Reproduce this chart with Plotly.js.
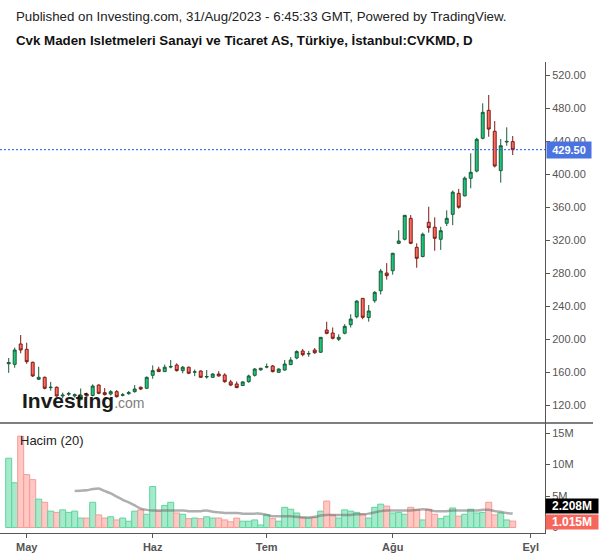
<!DOCTYPE html>
<html>
<head>
<meta charset="utf-8">
<script src="https://cdn.plot.ly/plotly-3.0.1.min.js"></script>
<style>
html,body{margin:0;padding:0;background:#ffffff;}
#chart{width:600px;height:558px;}
</style>
</head>
<body>
<div id="chart"></div>
<script>
// ---- Data ----
const openP = [170, 169.3, 194, 187.5, 171.8, 151.2, 153.6, 141, 141.5, 131,
  133, 131, 126.5, 133.3, 131.5, 144.2, 135, 133.3, 136.2, 131.8,
  133.7, 136.2, 141.5, 140.3, 156, 163.4, 160.5, 166, 168.5, 161.7,
  165.8, 159.8, 161.2, 154, 153.6, 157.6, 156.4, 148, 145.5, 143.6,
  148.3, 156, 162.6, 166, 167.3, 159.6, 162.4, 168.9, 177, 185.5,
  182, 186.7, 184, 210.9, 207.3, 199.7, 207, 217.4, 227, 249.3,
  226, 246.4, 258.5, 280, 282.8, 316, 320.9, 346.3, 311.2, 300,
  341.5, 335.5, 320.9, 340.3, 351.2, 376.6, 373.5, 394.8, 403.6, 443.3,
  477.2, 451.8, 404.1, 438.8, 439.3];
const highP = [177, 189.5, 204.8, 195.5, 172.5, 166.4, 154.5, 148, 142.5, 135,
  136, 134, 140, 135, 145, 145, 140.6, 138, 138, 134.5,
  137, 144.2, 142.5, 154.5, 168, 166.4, 169, 174.5, 170.5, 167.3,
  166.5, 163, 162, 162.4, 158.5, 161, 158.5, 150.5, 148.5, 148.8,
  156.8, 164.8, 165.2, 170.3, 168.5, 164.5, 174.5, 178, 186.3, 188,
  185.5, 189, 202.5, 221, 214, 205.7, 218, 230, 247, 249.6,
  241.2, 258, 285, 292, 304.5, 331.8, 350.5, 350.3, 316, 329,
  360.4, 347.5, 336, 356, 380, 382, 397, 425.1, 444, 485.7,
  495.8, 464.2, 442.4, 456.6, 446.1];
const lowP = [159, 165.2, 182.7, 170, 154, 150.3, 139, 137.4, 130, 128,
  131, 129, 125.5, 130, 130.5, 133, 131.5, 131.5, 129, 130.5,
  132.5, 135, 138, 139.5, 151.8, 160, 160, 164.5, 160.5, 158.5,
  157.5, 155, 153, 152, 152.8, 154.5, 147, 143, 140.5, 143,
  147, 154.5, 161.6, 164.5, 159.5, 159, 161.6, 168.5, 175.5, 179,
  178.5, 182, 183, 205.7, 199.5, 197.5, 205.7, 214, 225, 224,
  221, 244, 254, 272, 278, 315, 319.5, 315, 286.4, 299,
  328.9, 307, 308, 337, 338, 358, 373, 382.7, 402, 442,
  445.2, 408, 389.5, 434.3, 423];
const closeP = [171.5, 186.7, 186.7, 172.5, 155.2, 153.6, 140.3, 141.5, 131, 132,
  134, 132.5, 132, 131, 143, 134.2, 132.6, 136.2, 130.1, 132.3,
  135, 139.4, 139.4, 153.6, 161.7, 160.5, 165.8, 166.6, 161.7, 165.8,
  158.5, 160.2, 153.6, 154.5, 157.6, 155.2, 148.3, 144.2, 141.1, 148,
  155.2, 163.6, 164.5, 166.4, 160.5, 163.6, 169.7, 174.5, 184.8, 181,
  182.3, 183.4, 202, 206.9, 200.9, 202, 215.4, 224.2, 246, 226.3,
  234, 256.6, 282.4, 276.8, 303.9, 318.8, 349.9, 316, 297.8, 327,
  335, 322.1, 331.3, 346.3, 378, 359.7, 395, 402.1, 442.1, 474.8,
  454.5, 409.7, 434.3, 439.5, 429.5];
// volume in millions
const volumeM = [11.0, 7.1, 14.5, 8.4, 7.6, 4.5, 4.0, 2.6, 2.4, 2.8,
  2.4, 2.6, 1.5, 1.5, 4.0, 2.0, 1.5, 1.7, 1.2, 1.5,
  1.0, 2.6, 2.8, 2.1, 6.5, 2.6, 3.5, 4.0, 2.3, 2.1,
  1.4, 1.5, 1.4, 1.7, 1.5, 1.5, 1.2, 0.9, 1.5, 1.0,
  1.0, 1.2, 0.4, 2.0, 1.4, 1.0, 3.2, 2.9, 2.3, 1.6,
  1.5, 1.6, 2.6, 4.2, 2.0, 1.5, 2.8, 2.6, 2.4, 2.1,
  1.5, 3.2, 3.7, 3.4, 2.3, 2.4, 2.1, 3.2, 2.8, 1.2,
  2.9, 2.1, 1.4, 1.8, 3.1, 1.8, 2.1, 2.9, 2.3, 2.4,
  4.0, 2.0, 2.3, 1.2, 1.015];
// 20-period volume average line (millions), as drawn
const volumeMA20 = [null, null, null, null, null, null, null, null, null, null, null,
  5.8, 5.85, 5.9, 6.1, 6.2, 5.8, 5.4, 4.9, 4.4,
  4.0, 3.5, 3.0, 2.8, 2.7, 2.7, 2.7, 2.7, 2.7, 2.7,
  2.6, 2.6, 2.6, 2.7, 2.5, 2.4, 2.3, 2.3, 2.3, 2.2,
  2.2, 2.2, 2.2, 2.0, 1.8, 1.8, 1.8, 1.8, 1.7, 1.6,
  1.6, 1.7, 1.9, 2.0, 2.0, 2.0, 2.0, 2.0, 2.1, 2.1,
  2.2, 2.4, 2.6, 2.7, 2.7, 2.7, 2.7, 2.7, 2.8, 2.9,
  2.8, 2.6, 2.6, 2.6, 2.7, 2.7, 2.7, 2.7, 2.7, 2.8,
  2.8, 2.6, 2.5, 2.3, 2.208];
const monthTickIndex = [3, 24, 43, 64, 87];
const monthTickText = ['May', 'Haz', 'Tem', 'Ağu', 'Eyl'];
const priceTicks = [120, 160, 200, 240, 280, 320, 360, 400, 440, 480, 520];
const volumeTicks = [0, 5, 10, 15];
const volumeTickText = ['0', '5M', '10M', '15M'];
const lastPrice = 429.50;
const lastVolumeM = 1.015;
const lastVolumeMA = 2.208;
const titleLine1 = 'Published on Investing.com, 31/Aug/2023 - 6:45:33 GMT, Powered by TradingView.';
const titleLine2 = 'Cvk Maden Isletmeleri Sanayi ve Ticaret AS, Türkiye, İstanbul:CVKMD, D';
const volumeTitle = 'Hacim (20)';

// ---- Build ----
const xIdx = closeP.map((_, i) => i);
const up = closeP.map((c, i) => c >= openP[i]);
const volFill = up.map(u => u ? '#a6eacb' : '#ffc8c4');
const volLine = up.map(u => u ? '#5cd69e' : '#f59c95');

const FONT = '"Liberation Sans", Arial, Helvetica, sans-serif';
const splitY = 0.23355;

const traces = [
  {
    type: 'candlestick', x: xIdx, open: openP, high: highP, low: lowP, close: closeP,
    xaxis: 'x', yaxis: 'y',
    increasing: {line: {color: '#1a5c38', width: 1}, fillcolor: '#1fc57d'},
    decreasing: {line: {color: '#7a1c14', width: 1}, fillcolor: '#ff6a5f'},
    whiskerwidth: 0, hoverinfo: 'skip', showlegend: false
  },
  {
    type: 'bar', x: xIdx, y: volumeM, xaxis: 'x', yaxis: 'y2', width: 1,
    marker: {color: volFill, line: {color: volLine, width: 1}},
    hoverinfo: 'skip', showlegend: false
  },
  {
    type: 'scatter', mode: 'lines', x: xIdx, y: volumeMA20, xaxis: 'x', yaxis: 'y2',
    line: {color: 'rgba(110,110,110,0.55)', width: 2.5, shape: 'spline', smoothing: 0.6},
    connectgaps: false, hoverinfo: 'skip', showlegend: false
  }
];

const layout = {
  width: 600, height: 558,
  margin: {l: 0, r: 55, t: 62, b: 25, pad: 0},
  paper_bgcolor: '#ffffff', plot_bgcolor: '#ffffff',
  showlegend: false,
  font: {family: FONT, size: 11, color: '#555555'},
  bargap: 0,
  xaxis: {
    domain: [0, 1], anchor: 'y2', range: [-1.45, 89.38],
    tickmode: 'array', tickvals: monthTickIndex, ticktext: monthTickText,
    ticks: 'outside', ticklen: 4, tickcolor: '#555555',
    showline: true, linecolor: '#555555', linewidth: 1,
    showgrid: false, zeroline: false,
    rangeslider: {visible: false},
    tickfont: {family: FONT, size: 11, color: '#555555', weight: 'bold'},
    fixedrange: true
  },
  yaxis: {
    domain: [splitY, 1], anchor: 'x', side: 'right', range: [98.2, 535.8],
    tickmode: 'array', tickvals: priceTicks, tickformat: '.2f',
    ticks: 'outside', ticklen: 4, tickcolor: '#555555',
    showline: true, linecolor: '#555555', linewidth: 1,
    showgrid: false, zeroline: false,
    tickfont: {family: FONT, size: 11, color: '#555555'},
    fixedrange: true
  },
  yaxis2: {
    domain: [0, splitY], anchor: 'x', side: 'right', range: [-0.873, 16.59],
    tickmode: 'array', tickvals: volumeTicks, ticktext: volumeTickText,
    ticks: 'outside', ticklen: 4, tickcolor: '#555555',
    showline: true, linecolor: '#555555', linewidth: 1,
    showgrid: false, zeroline: false,
    tickfont: {family: FONT, size: 11, color: '#555555'},
    fixedrange: true
  },
  shapes: [
    {type: 'line', xref: 'paper', yref: 'paper', x0: 0, x1: 593 / 545, y0: splitY, y1: splitY,
     line: {color: '#555555', width: 1.5}},
    {type: 'line', xref: 'paper', yref: 'y', x0: 0, x1: 1, y0: lastPrice, y1: lastPrice,
     line: {color: '#2556e8', width: 1, dash: '2px,2px'}}
  ],
  annotations: [
    {xref: 'paper', yref: 'paper', x: 14 / 545, y: (533 - 16) / 471, xanchor: 'left', yanchor: 'middle',
     text: titleLine1, showarrow: false, font: {family: FONT, size: 13.3, color: '#222222'}},
    {xref: 'paper', yref: 'paper', x: 14 / 545, y: (533 - 40) / 471, xanchor: 'left', yanchor: 'middle',
     text: '<b>' + titleLine2 + '</b>', showarrow: false, font: {family: FONT, size: 13.3, color: '#111111'}},
    {xref: 'paper', yref: 'paper', x: 18 / 545, y: (533 - 440) / 471, xanchor: 'left', yanchor: 'middle',
     text: volumeTitle, showarrow: false, font: {family: FONT, size: 13, color: '#222222'}},
    {xref: 'paper', yref: 'paper', x: 20 / 545, y: (533 - 400) / 471, xanchor: 'left', yanchor: 'middle',
     text: '<b>Investing</b><span style="font-size:14px;color:#808080">.com</span>',
     showarrow: false, font: {family: FONT, size: 21, color: '#1a1a1a'}},
    {xref: 'paper', yref: 'y', x: 1, y: lastPrice, xanchor: 'left', yanchor: 'middle', xshift: 1,
     text: lastPrice.toFixed(2), showarrow: false, bgcolor: '#4b73e0', borderpad: 2,
     width: 40, height: 12, align: 'center',
     font: {family: FONT, size: 11, color: '#ffffff', weight: 'bold'}},
    {xref: 'paper', yref: 'y2', x: 1, y: lastVolumeMA, xanchor: 'left', yanchor: 'middle', yshift: 7.6,
     text: lastVolumeMA.toFixed(3) + 'M', showarrow: false, bgcolor: '#000000', borderpad: 2,
     width: 48, height: 10, align: 'center',
     font: {family: FONT, size: 12, color: '#ffffff', weight: 'bold'}},
    {xref: 'paper', yref: 'y2', x: 1, y: lastVolumeM, xanchor: 'left', yanchor: 'middle', yshift: -1,
     text: lastVolumeM.toFixed(3) + 'M', showarrow: false, bgcolor: '#f7665c', borderpad: 2,
     width: 48, height: 10, align: 'center',
     font: {family: FONT, size: 12, color: '#ffffff', weight: 'bold'}}
  ]
};

Plotly.newPlot('chart', traces, layout, {displayModeBar: false, staticPlot: true});
</script>
</body>
</html>
